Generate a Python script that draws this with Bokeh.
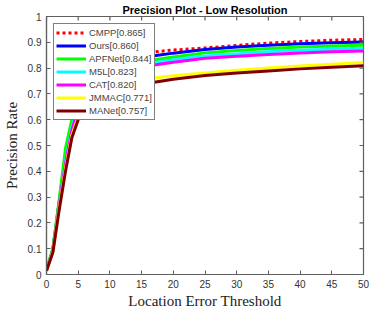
import numpy as np
from bokeh.plotting import figure
from bokeh.models import Legend, LegendItem, FixedTicker, Range1d, ColumnDataSource
from bokeh.embed import file_html
from bokeh.resources import INLINE

thresholds = [0, 1, 2, 3, 4, 5, 6, 8, 10, 12, 15, 17, 20, 25, 30, 35, 40, 45, 50]

cmpp  = [0.018, 0.095, 0.28, 0.46, 0.58, 0.660, 0.720, 0.790, 0.820, 0.838, 0.856, 0.863, 0.870, 0.878, 0.888, 0.897, 0.903, 0.908, 0.911]
ours  = [0.018, 0.095, 0.28, 0.45, 0.58, 0.655, 0.720, 0.785, 0.815, 0.830, 0.843, 0.848, 0.858, 0.872, 0.882, 0.889, 0.894, 0.898, 0.901]
apf   = [0.020, 0.100, 0.29, 0.49, 0.60, 0.680, 0.730, 0.780, 0.805, 0.820, 0.828, 0.832, 0.843, 0.859, 0.868, 0.876, 0.882, 0.886, 0.889]
m5l   = [0.018, 0.092, 0.27, 0.44, 0.57, 0.645, 0.700, 0.760, 0.790, 0.805, 0.816, 0.821, 0.832, 0.847, 0.855, 0.863, 0.869, 0.873, 0.876]
cat   = [0.016, 0.090, 0.27, 0.43, 0.56, 0.640, 0.690, 0.750, 0.780, 0.795, 0.807, 0.812, 0.823, 0.838, 0.846, 0.853, 0.859, 0.863, 0.866]
jmmac = [0.015, 0.088, 0.26, 0.41, 0.54, 0.610, 0.660, 0.700, 0.725, 0.740, 0.755, 0.762, 0.770, 0.781, 0.792, 0.800, 0.808, 0.815, 0.822]
manet = [0.015, 0.085, 0.25, 0.40, 0.53, 0.600, 0.650, 0.690, 0.710, 0.725, 0.738, 0.745, 0.757, 0.771, 0.781, 0.789, 0.797, 0.803, 0.809]

names = ["CMPP[0.865]", "Ours[0.860]", "APFNet[0.844]", "M5L[0.823]", "CAT[0.820]", "JMMAC[0.771]", "MANet[0.757]"]
series = [cmpp, ours, apf, m5l, cat, jmmac, manet]
colors = ["#ff0000", "#0000ff", "#00ff00", "#00ffff", "#ff00ff", "#ffff00", "#800000"]
dashes = ["3 3", "solid", "solid", "solid", "solid", "solid", "solid"]

x_ticks = [0, 5, 10, 15, 20, 25, 30, 35, 40, 45, 50]
y_ticks = [0, 0.1, 0.2, 0.3, 0.4, 0.5, 0.6, 0.7, 0.8, 0.9, 1]
y_tick_labels = {0: "0", 0.1: "0.1", 0.2: "0.2", 0.3: "0.3", 0.4: "0.4", 0.5: "0.5",
                 0.6: "0.6", 0.7: "0.7", 0.8: "0.8", 0.9: "0.9", 1: "1"}

p = figure(width=369, height=311, output_backend="svg", toolbar_location=None,
           x_range=Range1d(0, 50), y_range=Range1d(0, 1),
           min_border_left=37, min_border_right=6, min_border_top=0, min_border_bottom=0,
           title="Precision Plot - Low Resolution")
p.title.text_font = "Liberation Sans"
p.title.text_font_size = "11px"
p.title.text_font_style = "bold"
p.title.align = "center"
p.title.standoff = 2
p.title.text_color = "#000000"
p.grid.visible = False
axis_color = "#5f5f5f"
p.outline_line_color = axis_color
p.outline_line_width = 1.2
p.background_fill_color = "white"
p.border_fill_color = "white"

for ax in p.xaxis + p.yaxis:
    ax.axis_line_color = axis_color
    ax.axis_line_width = 1.2
    ax.major_tick_line_color = axis_color
    ax.minor_tick_line_color = None
    ax.major_tick_in = 4
    ax.major_tick_out = 0
    ax.major_label_text_font = "Liberation Sans"
    ax.major_label_text_font_size = "10px"
    ax.major_label_text_color = "#333333"
    ax.axis_label_text_font = "Liberation Serif"
    ax.axis_label_text_font_size = "15px"
    ax.axis_label_text_font_style = "normal"
    ax.axis_label_text_color = "#222222"

p.xaxis.ticker = FixedTicker(ticks=x_ticks)
p.yaxis.ticker = FixedTicker(ticks=y_ticks)
p.yaxis.major_label_overrides = y_tick_labels
p.xaxis.axis_label = "Location Error Threshold"
p.yaxis.axis_label = "Precision Rate"
p.xaxis.major_label_standoff = 5
p.yaxis.major_label_standoff = 5
p.xaxis.axis_label_standoff = 2
p.yaxis.axis_label_standoff = 5

items = []
for name, ys, c, d in zip(names, series, colors, dashes):
    src = ColumnDataSource(dict(x=thresholds, y=ys))
    r = p.line("x", "y", source=src, line_color=c, line_width=3, line_dash=d)
    items.append(LegendItem(label=name, renderers=[r]))

# inward tick marks on the top and right edges of the box (MATLAB "box on")
p.ray(x=x_ticks, y=[1] * len(x_ticks), length=4, length_units="screen",
      angle=-np.pi / 2, line_color=axis_color, line_width=1.2)
p.ray(x=[50] * len(y_ticks), y=y_ticks, length=4, length_units="screen",
      angle=np.pi, line_color=axis_color, line_width=1.2)

legend = Legend(items=items, location="top_left", margin=7, padding=2, spacing=0,
                glyph_height=13, label_height=13, glyph_width=30, label_standoff=3,
                label_text_font="Liberation Sans", label_text_font_size="9.5px",
                border_line_color="black", border_line_width=1,
                background_fill_color="white", background_fill_alpha=1.0)
p.add_layout(legend, "center")

open("out.html", "w").write(file_html(p, INLINE))
